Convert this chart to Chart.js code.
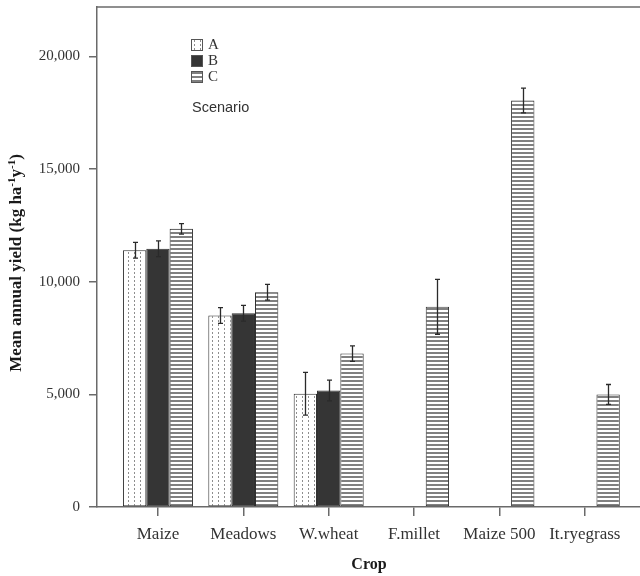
<!DOCTYPE html>
<html>
<head>
<meta charset="utf-8">
<script src="https://cdn.jsdelivr.net/npm/chart.js@4"></script>
<style>
  html, body { margin: 0; padding: 0; background: #fff; overflow: hidden; }
  canvas { display: block; }
</style>
</head>
<body>
<canvas id="chart" width="660" height="576"></canvas>
<script>
// Mean annual yield per crop and scenario (kg ha-1 y-1), with error bar half-widths
const crops = ['Maize', 'Meadows', 'W.wheat', 'F.millet', 'Maize 500', 'It.ryegrass'];
const scenarios = ['A', 'B', 'C'];
const yieldA = [11400, 8500, 5030, null, null, null];
const yieldB = [11470, 8600, 5170, null, null, null];
const yieldC = [12350, 9535, 6810, 8890, 18050, 5000];
const errA = [350, 350, 950, null, null, null];
const errB = [350, 350, 460, null, null, null];
const errC = [230, 350, 340, 1220, 550, 440];
const yTicks = [0, 5000, 10000, 15000, 20000];

const series = [yieldA, yieldB, yieldC];
const errors = [errA, errB, errC];

const canvas = document.getElementById('chart');
const ctx = canvas.getContext('2d');

const SERIF = '"Liberation Serif", "Times New Roman", serif';
const SANS = '"Liberation Sans", Arial, sans-serif';
const INK = '#333';
const AXIS = '#6a6a6a';

// Fill patterns: dotted (A), solid dark (B), horizontal stripes (C)
function makeTile(w, h, paint) {
  const c = document.createElement('canvas');
  c.width = w; c.height = h;
  const g = c.getContext('2d');
  paint(g);
  return ctx.createPattern(c, 'repeat');
}
const dotted = makeTile(6, 4, g => {
  g.fillStyle = '#fff'; g.fillRect(0, 0, 6, 4);
  g.fillStyle = '#8e8e8e'; g.fillRect(2, 0, 1, 2);
});
const striped = makeTile(4, 4, g => {
  g.fillStyle = '#fff'; g.fillRect(0, 0, 4, 4);
  g.fillStyle = '#808080'; g.fillRect(0, 0, 4, 2);
});
const fills = [dotted, '#353535', striped];

const errorBars = {
  id: 'errorBars',
  afterDatasetsDraw(chart) {
    const y = chart.scales.y;
    const g = chart.ctx;
    g.save();
    g.strokeStyle = '#2a2a2a';
    g.lineWidth = 1.3;
    series.forEach((vals, k) => {
      const meta = chart.getDatasetMeta(k);
      meta.data.forEach((el, i) => {
        const v = vals[i], e = errors[k][i];
        if (v == null || e == null) return;
        const x = Math.round(el.x) + 0.5;
        const yt = y.getPixelForValue(v + e);
        const yb = y.getPixelForValue(v - e);
        g.beginPath();
        g.moveTo(x, yt); g.lineTo(x, yb);
        g.moveTo(x - 2.5, yt); g.lineTo(x + 2.5, yt);
        g.moveTo(x - 2.5, yb); g.lineTo(x + 2.5, yb);
        g.stroke();
      });
    });
    g.restore();
  }
};

const decorations = {
  id: 'decorations',
  afterDraw(chart) {
    const g = chart.ctx;
    const a = chart.chartArea;
    g.save();
    // top frame line
    g.strokeStyle = AXIS;
    g.lineWidth = 1.5;
    g.beginPath();
    g.moveTo(a.left, a.top);
    g.lineTo(chart.width, a.top);
    g.stroke();

    // legend
    const lx = 191, ly = [39, 55, 71];
    scenarios.forEach((s, k) => {
      g.fillStyle = fills[k];
      g.fillRect(lx, ly[k], 11, 11);
      g.strokeStyle = '#555';
      g.lineWidth = 1;
      g.strokeRect(lx + 0.5, ly[k] + 0.5, 11, 11);
      g.fillStyle = INK;
      g.font = '15px ' + SERIF;
      g.textBaseline = 'middle';
      g.textAlign = 'left';
      g.fillText(s, 208, ly[k] + 6);
    });
    g.font = '14.5px ' + SANS;
    g.fillText('Scenario', 192, 108);

    // x axis title
    g.font = 'bold 16px ' + SERIF;
    g.textAlign = 'center';
    g.fillStyle = '#1a1a1a';
    g.fillText('Crop', 369, 565);

    // y axis title with superscripts
    const parts = [
      ['Mean annual yield (kg ha', false],
      ['-1', true],
      ['y', false],
      ['-1', true],
      [')', false]
    ];
    const fMain = 'bold 17px ' + SERIF, fSup = 'bold 11px ' + SERIF;
    let total = 0;
    parts.forEach(([t, sup]) => { g.font = sup ? fSup : fMain; total += g.measureText(t).width; });
    g.translate(17, 263);
    g.rotate(-Math.PI / 2);
    g.textAlign = 'left';
    let px = -total / 2;
    parts.forEach(([t, sup]) => {
      g.font = sup ? fSup : fMain;
      g.fillText(t, px, sup ? -5 : 0);
      px += g.measureText(t).width;
    });
    g.restore();
  }
};

new Chart(ctx, {
  type: 'bar',
  data: {
    datasets: scenarios.map((s, k) => ({
      label: s,
      data: series[k].map((v, i) => ({ x: i, y: v })),
      backgroundColor: fills[k],
      borderColor: '#2e2e2e',
      borderWidth: 1,
      borderSkipped: false,
      categoryPercentage: 0.82,
      barPercentage: 1
    }))
  },
  options: {
    responsive: false,
    animation: false,
    layout: { padding: { top: 7, right: 14, left: 0, bottom: 0 } },
    plugins: { legend: { display: false }, tooltip: { enabled: false } },
    scales: {
      x: {
        type: 'linear',
        offset: false,
        min: -0.714,
        max: 5.717,
        afterBuildTicks: s => { s.ticks = crops.map((_, i) => ({ value: i })); },
        afterFit: s => { s.height = 69; s.paddingLeft = 0; s.paddingRight = 0; },
        ticks: {
          callback: v => crops[v],
          font: { family: SERIF, size: 17 },
          color: INK,
          padding: 8.8,
          maxRotation: 0,
          autoSkip: false
        },
        grid: { offset: false, drawOnChartArea: false, drawTicks: true, tickLength: 9, color: AXIS, lineWidth: 1.5 },
        border: { color: AXIS, width: 1.5 }
      },
      y: {
        min: 0,
        max: 22200,
        afterBuildTicks: s => { s.ticks = yTicks.map(v => ({ value: v })); },
        afterFit: s => { s.width = 97; s.paddingTop = 0; s.paddingBottom = 0; },
        ticks: {
          callback: v => v.toLocaleString('en-US'),
          font: { family: SERIF, size: 15 },
          color: INK,
          padding: 9
        },
        grid: { drawOnChartArea: false, drawTicks: true, tickLength: 8, color: AXIS, lineWidth: 1.5 },
        border: { color: AXIS, width: 1.5 }
      }
    }
  },
  plugins: [errorBars, decorations]
});
</script>
</body>
</html>
